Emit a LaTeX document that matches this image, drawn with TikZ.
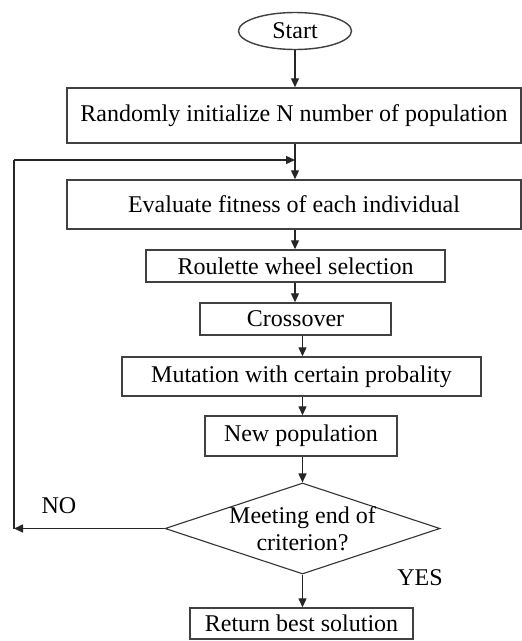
\documentclass[tikz,border=0pt]{standalone}
\usepackage{fontspec}
\setmainfont{Liberation Serif}
\usetikzlibrary{shapes.geometric,arrows.meta}
\begin{document}
\begin{tikzpicture}[x=1pt,y=-1pt,
  every node/.style={font=\fontsize{24}{27}\selectfont, text=black},
  boxstyle/.style={draw=black!75, line width=1.5pt, rectangle, inner sep=0pt},
  flowarrow/.style={draw=black!85, line width=1.4pt, -{Triangle[length=9pt,width=8pt]}},
  flowline/.style={draw=black!85, line width=1.4pt}]
\useasboundingbox (0,0) rectangle (522,641);
\fill[white] (0,0) rectangle (522,641);
\node[draw=black!75, line width=1.4pt, ellipse, inner sep=0pt, minimum width=113pt, minimum height=37pt] (start) at (295,31) {Start};
\node[boxstyle, minimum width=454pt, minimum height=55pt] (b1) at (294,115.5) {Randomly initialize N number of population};
\node[boxstyle, minimum width=454pt, minimum height=49pt] (b2) at (294,204.5) {Evaluate fitness of each individual};
\node[boxstyle, minimum width=299pt, minimum height=32pt] (b3) at (295.5,266) {Roulette wheel selection};
\node[boxstyle, minimum width=191pt, minimum height=32pt] (b4) at (295.5,319) {Crossover};
\node[boxstyle, minimum width=359pt, minimum height=39pt] (b5) at (301.5,376.5) {Mutation with certain probality};
\node[boxstyle, minimum width=192pt, minimum height=40pt] (b6) at (301,436) {New population};
\node[draw=black!80, line width=1.1pt, diamond, aspect=3.02, inner sep=0pt, minimum width=275pt, minimum height=91pt] (dec) at (302.5,528.5) {};
\node[align=center, inner sep=0pt] (dectext) at (302.5,529) {Meeting end of\\criterion?};
\node[boxstyle, minimum width=223pt, minimum height=31pt] (b7) at (301.5,623.5) {Return best solution};
\node (no) at (59,506) {NO};
\node (yes) at (420,578) {YES};
\coordinate (L1) at (14,528.5);
\coordinate (L2) at (14,160);
\coordinate (J) at (295,160);
\draw[flowarrow] (start.south) -- (start.south |- b1.north);
\draw[flowarrow] (start.south |- b1.south) -- (start.south |- b2.north);
\draw[flowarrow] (start.south |- b2.south) -- (start.south |- b3.north);
\draw[flowarrow] (start.south |- b3.south) -- (start.south |- b4.north);
\draw[flowarrow] (dec.north |- b4.south) -- (dec.north |- b5.north);
\draw[flowarrow] (dec.north |- b5.south) -- (dec.north |- b6.north);
\draw[flowarrow] (dec.north |- b6.south) -- (dec.north);
\draw[flowarrow] (dec.south) -- (dec.south |- b7.north);
\draw[flowarrow] (dec.west) -- (L1);
\draw[flowline] (L1) -- (L2);
\draw[flowarrow] (L2) -- (J);
\end{tikzpicture}
\end{document}
